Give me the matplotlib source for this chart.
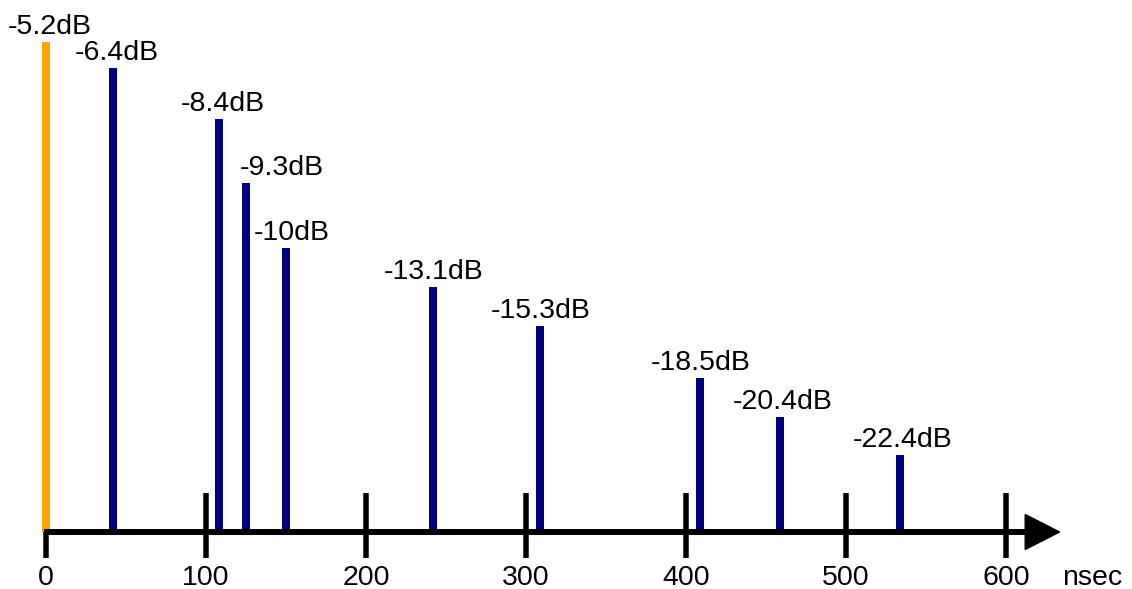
import matplotlib
matplotlib.use('Agg')
import matplotlib.pyplot as plt
from matplotlib.patches import Polygon

# data
delays = [0, 42, 108, 125, 150, 242, 309, 409, 459, 534]          # nsec
levels = [490, 464, 413, 349, 284, 245, 206, 154, 115, 77]         # relative bar height
labels = ['-5.2dB', '-6.4dB', '-8.4dB', '-9.3dB', '-10dB', '-13.1dB',
          '-15.3dB', '-18.5dB', '-20.4dB', '-22.4dB']
tick_values = [0, 100, 200, 300, 400, 500, 600]
tick_labels = ['0', '100', '200', '300', '400', '500', '600']
axis_unit = 'nsec'

# layout / style
colors = ['#FFA500'] + ['#000080'] * 9
label_dx_px = [4, 4, 4, 36, 6, 0, 0, 0, 2, 2]
PX = 1.6  # pixels per nsec
FONT = 'Liberation Sans'
FS = 20.5

fig = plt.figure(figsize=(11.32, 5.89), dpi=100)
ax = fig.add_axes([0, 0, 1, 1])
ax.set_xlim(-46 / PX, (1132 - 46) / PX)
ax.set_ylim(-57, 532)
ax.axis('off')

# bars
ax.bar(delays, levels, width=8 / PX, color=colors, bottom=0, zorder=2)

# axis line with arrow head
ax.plot([-2 / PX, 612], [0, 0], color='black', lw=6 * 0.72,
        solid_capstyle='butt', zorder=3)
ax.add_patch(Polygon([(612, 17.5), (633.5, 0), (612, -17.5)],
                     closed=True, color='black', zorder=3))

# ticks
for t, tl in zip(tick_values, tick_labels):
    top = 0 if t == 0 else 39
    ax.plot([t, t], [-26, top], color='black', lw=5.5 * 0.72,
            solid_capstyle='butt', zorder=3)
    ax.text(t, -53, tl, ha='center', va='baseline', fontsize=FS, family=FONT)
ax.text(654, -53, axis_unit, ha='center', va='baseline', fontsize=FS, family=FONT)

# value labels
for x, h, lab, dx in zip(delays, levels, labels, label_dx_px):
    ax.text(x + dx / PX, h + 8, lab, ha='center', va='baseline',
            fontsize=FS, family=FONT)

fig.savefig('out.png', dpi=100)
